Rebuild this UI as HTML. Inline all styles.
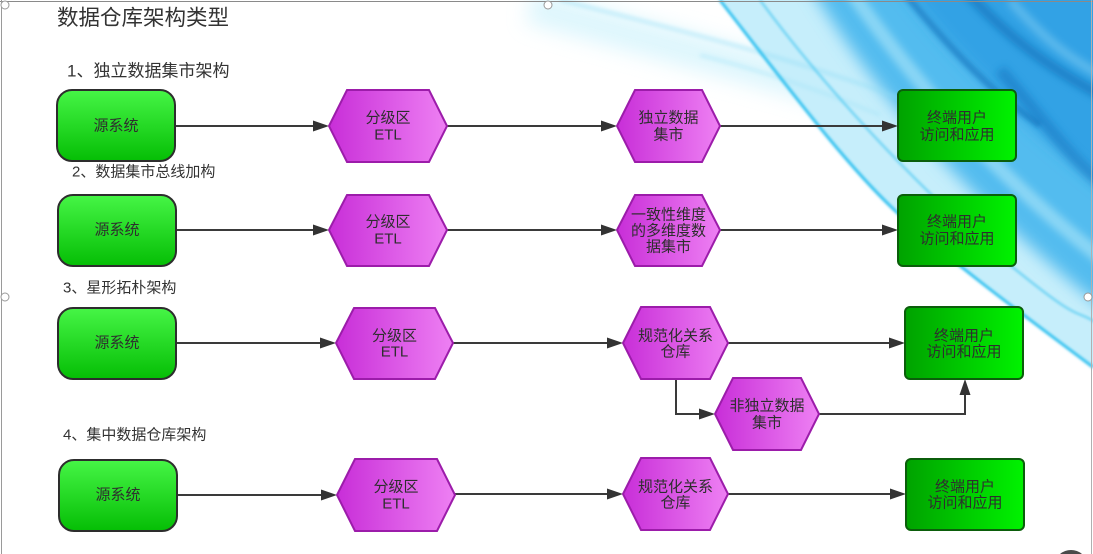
<!DOCTYPE html>
<html><head><meta charset="utf-8"><style>
html,body{margin:0;padding:0;background:#fff;width:1093px;height:554px;overflow:hidden;}
svg{display:block;}
text{font-family:"Liberation Sans","Noto Sans CJK SC",sans-serif;}
</style></head><body>
<svg width="1093" height="554" viewBox="0 0 1093 554" xmlns="http://www.w3.org/2000/svg">
<defs>
<linearGradient id="gSrc" x1="0" y1="0" x2="0" y2="1"><stop offset="0" stop-color="#46f546"/><stop offset="1" stop-color="#05be05"/></linearGradient>
<linearGradient id="gEnd" x1="0" y1="0" x2="1" y2="0"><stop offset="0" stop-color="#00a200"/><stop offset="1" stop-color="#00f300"/></linearGradient>
<linearGradient id="gHex" x1="0" y1="0" x2="1" y2="0"><stop offset="0" stop-color="#c82ed8"/><stop offset="1" stop-color="#ee80f3"/></linearGradient>
<filter id="b1" x="-20%" y="-20%" width="140%" height="140%"><feGaussianBlur stdDeviation="1.2"/></filter>
<filter id="b2" x="-20%" y="-20%" width="140%" height="140%"><feGaussianBlur stdDeviation="2"/></filter>
<filter id="b4" x="-20%" y="-20%" width="140%" height="140%"><feGaussianBlur stdDeviation="4"/></filter>
<filter id="b8" x="-20%" y="-20%" width="140%" height="140%"><feGaussianBlur stdDeviation="8"/></filter>
<filter id="b10" x="-30%" y="-30%" width="160%" height="160%"><feGaussianBlur stdDeviation="10"/></filter>
<clipPath id="cp"><rect x="0" y="0" width="1093" height="554"/></clipPath>
</defs>

<g clip-path="url(#cp)">
<!-- background swooshes -->
<rect x="0" y="0" width="1093" height="554" fill="#fff"/>
<path d="M530 6 C650 40 800 80 930 118" stroke="#c2effb" stroke-width="34" fill="none" opacity="0.55" filter="url(#b10)"/>
<path d="M715 -30 L720 0 C790 90 850 170 900 215 S1010 305 1093 367 L1130 395 L1130 -30 Z" fill="#c6eefb" filter="url(#b2)"/>
<path d="M800 -30 C860 70 940 180 1130 330 L1130 -30 Z" fill="#52bcef" filter="url(#b8)"/>
<path d="M890 -30 C950 55 1030 130 1130 205 L1130 -30 Z" fill="#32a2e5" filter="url(#b8)"/>
<path d="M850 -10 C920 90 1000 180 1110 265" stroke="#b8ecfb" stroke-width="14" fill="none" opacity="0.55" filter="url(#b4)"/>
<path d="M902 -10 C955 55 995 95 1040 125" stroke="#1676be" stroke-width="7" fill="none" opacity="0.6" filter="url(#b2)"/>
<path d="M965 -10 C1010 40 1055 72 1110 100" stroke="#0e6cb6" stroke-width="9" fill="none" opacity="0.65" filter="url(#b4)"/>
<path d="M1000 70 C1040 115 1070 160 1110 190" stroke="#1878c2" stroke-width="12" fill="none" opacity="0.6" filter="url(#b4)"/>
<path d="M1010 0 C1045 40 1070 60 1110 80" stroke="#8fd6f6" stroke-width="8" fill="none" opacity="0.5" filter="url(#b4)"/>
<path d="M560 0 C680 30 800 60 905 100" stroke="#8fdcf5" stroke-width="3" fill="none" opacity="0.55" filter="url(#b2)"/>
<path d="M700 55 C760 70 820 90 880 115" stroke="#9fe2f7" stroke-width="3" fill="none" opacity="0.5" filter="url(#b2)"/>
<path d="M720 0 C790 90 850 170 900 215 S1010 305 1093 367" stroke="#34c2f0" stroke-width="3" fill="none" filter="url(#b1)"/>
<path d="M760 0 C830 95 930 200 1010 265 S1070 305 1100 325" stroke="#52caf2" stroke-width="2.5" fill="none" opacity="0.7" filter="url(#b1)"/>
</g>

<!-- frame -->
<line x1="0" y1="1.5" x2="1093" y2="1.5" stroke="#8a8a8a" stroke-width="1"/>
<line x1="1.5" y1="0" x2="1.5" y2="554" stroke="#9a9a9a" stroke-width="1"/>
<line x1="1091.5" y1="0" x2="1091.5" y2="554" stroke="#b0b0b0" stroke-width="1"/>
<circle cx="5" cy="5" r="4" fill="#fff" stroke="#999"/>
<circle cx="548" cy="5" r="4" fill="#fff" stroke="#999"/>
<circle cx="5" cy="297" r="4" fill="#fff" stroke="#999"/>
<circle cx="1088" cy="297" r="4" fill="#fff" stroke="#999"/>
<path d="M1060 554 A17 17 0 0 1 1082 554 Z" fill="#4a4a4a"/>

<!-- titles -->
<text x="57" y="18" font-size="21.5" fill="#333" dominant-baseline="central">数据仓库架构类型</text>
<text x="67" y="71" font-size="17" fill="#333" dominant-baseline="central">1、独立数据集市架构</text>
<text x="72" y="172" font-size="15" fill="#333" dominant-baseline="central">2、数据集市总线加构</text>
<text x="63" y="288" font-size="15" fill="#333" dominant-baseline="central">3、星形拓朴架构</text>
<text x="63" y="435" font-size="15" fill="#333" dominant-baseline="central">4、集中数据仓库架构</text>

<!-- connectors -->
<g stroke="#3a3a3a" stroke-width="2" fill="none">
<line x1="175" y1="126" x2="316" y2="126"/>
<line x1="447" y1="126" x2="604" y2="126"/>
<line x1="720" y1="126" x2="885" y2="126"/>
<line x1="176" y1="230" x2="316" y2="230"/>
<line x1="447" y1="230" x2="604" y2="230"/>
<line x1="720" y1="230" x2="885" y2="230"/>
<line x1="176" y1="343" x2="323" y2="343"/>
<line x1="453" y1="343" x2="610" y2="343"/>
<line x1="728" y1="343" x2="892" y2="343"/>
<polyline points="676,379 676,414 702,414"/>
<polyline points="819,414 965,414 965,392"/>
<line x1="177" y1="495" x2="324" y2="495"/>
<line x1="455" y1="494" x2="610" y2="494"/>
<line x1="728" y1="494" x2="893" y2="494"/>
</g>
<g fill="#333">
<polygon points="313,120.5 329,126 313,131.5"/>
<polygon points="601,120.5 617,126 601,131.5"/>
<polygon points="882,120.5 898,126 882,131.5"/>
<polygon points="313,224.5 329,230 313,235.5"/>
<polygon points="601,224.5 617,230 601,235.5"/>
<polygon points="882,224.5 898,230 882,235.5"/>
<polygon points="320,337.5 336,343 320,348.5"/>
<polygon points="607,337.5 623,343 607,348.5"/>
<polygon points="889,337.5 905,343 889,348.5"/>
<polygon points="699,408.5 715,414 699,419.5"/>
<polygon points="959.5,395 965,379 970.5,395"/>
<polygon points="321,489.5 337,495 321,500.5"/>
<polygon points="607,488.5 623,494 607,499.5"/>
<polygon points="890,488.5 906,494 890,499.5"/>
</g>

<!-- source boxes -->
<g fill="url(#gSrc)" stroke="#2d2d2d" stroke-width="2">
<rect x="57" y="90" width="118" height="71" rx="15"/>
<rect x="58" y="195" width="118" height="71" rx="15"/>
<rect x="58" y="308" width="118" height="71" rx="15"/>
<rect x="59" y="460" width="118" height="71" rx="15"/>
</g>

<!-- end boxes -->
<g fill="url(#gEnd)" stroke="#0b5e0b" stroke-width="2">
<rect x="898" y="90" width="118" height="71" rx="5"/>
<rect x="898" y="195" width="118" height="71" rx="5"/>
<rect x="905" y="307" width="118" height="72" rx="5"/>
<rect x="906" y="459" width="118" height="71" rx="5"/>
</g>

<!-- hexagons -->
<g fill="url(#gHex)" stroke="#9c1caa" stroke-width="2">
<polygon points="329,126 347,90 429,90 447,126 429,162 347,162"/>
<polygon points="617,126 635,90 702,90 720,126 702,162 635,162"/>
<polygon points="329,230 347,195 429,195 447,230 429,266 347,266"/>
<polygon points="617,230 635,195 702,195 720,230 702,266 635,266"/>
<polygon points="336,343 354,308 435,308 453,343 435,379 354,379"/>
<polygon points="623,343 641,307 710,307 728,343 710,379 641,379"/>
<polygon points="715,414 733,378 801,378 819,414 801,450 733,450"/>
<polygon points="337,495 355,459 437,459 455,495 437,531 355,531"/>
<polygon points="623,494 641,458 710,458 728,494 710,530 641,530"/>
</g>

<!-- node text -->
<g font-size="15" fill="#2e2e2e" text-anchor="middle" dominant-baseline="central">
<text x="116" y="126">源系统</text>
<text x="117" y="230">源系统</text>
<text x="117" y="343">源系统</text>
<text x="118" y="495">源系统</text>

<text x="388" y="118">分级区</text><text x="388" y="135">ETL</text>
<text x="388" y="222">分级区</text><text x="388" y="239">ETL</text>
<text x="394.5" y="336">分级区</text><text x="394.5" y="352">ETL</text>
<text x="396" y="487">分级区</text><text x="396" y="504">ETL</text>

<text x="668.5" y="118">独立数据</text><text x="668.5" y="135">集市</text>
<text x="668.5" y="215">一致性维度</text><text x="668.5" y="231">的多维度数</text><text x="668.5" y="247">据集市</text>
<text x="675.5" y="336">规范化关系</text><text x="675.5" y="352">仓库</text>
<text x="767" y="406">非独立数据</text><text x="767" y="423">集市</text>
<text x="675.5" y="487">规范化关系</text><text x="675.5" y="503">仓库</text>

<text x="957" y="118">终端用户</text><text x="957" y="135">访问和应用</text>
<text x="957" y="222">终端用户</text><text x="957" y="239">访问和应用</text>
<text x="964" y="336">终端用户</text><text x="964" y="352">访问和应用</text>
<text x="965" y="487">终端用户</text><text x="965" y="503">访问和应用</text>
</g>
</svg>
</body></html>
